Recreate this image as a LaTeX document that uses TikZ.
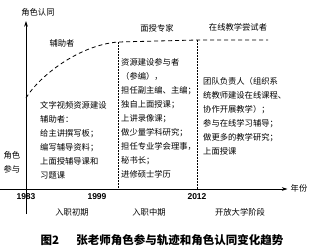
\documentclass[tikz,border=0pt]{standalone}
\usepackage{fontspec}
\usepackage{tikz}
\usetikzlibrary{arrows.meta,positioning}
\setsansfont{Liberation Sans}
\newfontfamily\cjk{Noto Sans CJK SC}

\begin{document}
\begin{tikzpicture}[
      x=1pt, y=-1pt,
      tag/.style={
        font=\cjk\fontsize{8.3}{14}\selectfont,
        inner sep=0pt
      },
      textblock/.style={
        tag,
        anchor=north west,
        align=left
      },
      yearlabel/.style={
        font=\sffamily\bfseries\fontsize{8.5}{9}\selectfont,
        inner sep=0pt
      },
      axis/.style={
        -{Stealth[length=2mm,width=1.3mm]},
        semithick
      },
      trend/.style={
        dash pattern=on 4pt off 3pt,
        thick
      },
      divider/.style={
        dash pattern=on 2pt off 1pt,
        thin
      }
    ]
      \useasboundingbox (0,0) rectangle (316,250);
      % axes
      \node[tag] (identity) at (38,12) {角色认同};
      \node[tag] (year) at (299,188) {年份};
      \node[tag, align=center] (participation) at (12,162) {角色\\参与};
      \coordinate (yfoot) at (26,214);
      \coordinate (xstart) at (0,189);
      \draw[axis, shorten >=5pt] (yfoot) -- (identity.south -| yfoot);
      \draw[axis, shorten >=3pt] (xstart) -- (year.west |- xstart);
      % trend of role identity
      \coordinate (start) at (26,98);
      \coordinate (turn) at (118,42);
      \coordinate (mid) at (197,40);
      \coordinate (flat) at (268,40);
      \draw[trend] (start) .. controls (40,75) and (80,45) .. (turn) -- (mid) -- (flat);
      \coordinate (turnfoot) at (118,189);
      \coordinate (midfoot) at (197,189);
      \draw[divider] (turn) -- (turnfoot);
      \draw[divider] (mid) -- (midfoot);
      % roles
      \node[tag] (assistant) at (62,43) {辅助者};
      \node[tag] (expert) at (157,28) {面授专家};
      \node[tag] (online) at (238,27) {在线教学尝试者};
      \node[textblock] (early) at (40,101) {文字视频资源建设\\辅助者：\\给主讲撰写板；\\编写辅导资料；\\上面授辅导课和\\习题课};
      \node[textblock] (middle) at (121,58) {资源建设参与者\\（参编），\\担任副主编、主编；\\独自上面授课；\\上讲录像课；\\做少量学科研究；\\担任专业学会理事，\\秘书长；\\进修硕士学历};
      \node[textblock] (open) at (203,77) {团队负责人（组织系\\统教师建设在线课程、\\协作开展教学）；\\参与在线学习辅导；\\做更多的教学研究；\\上面授课};
      % years and stages
      \node[yearlabel] (y1983) at (26,197) {1983};
      \node[yearlabel] (y1999) at (97,197) {1999};
      \node[yearlabel] (y2012) at (197,197) {2012};
      \node[tag] (stage1) at (72,212) {入职初期};
      \node[tag] (stage2) at (149,212) {入职中期};
      \node[tag] (stage3) at (240,212) {开放大学阶段};
      \node[tag, font=\cjk\bfseries\fontsize{11.5}{12}\selectfont] (caption) at (162,240) {图2\hspace{1.5em}张老师角色参与轨迹和角色认同变化趋势};
    \end{tikzpicture}
\end{document}
